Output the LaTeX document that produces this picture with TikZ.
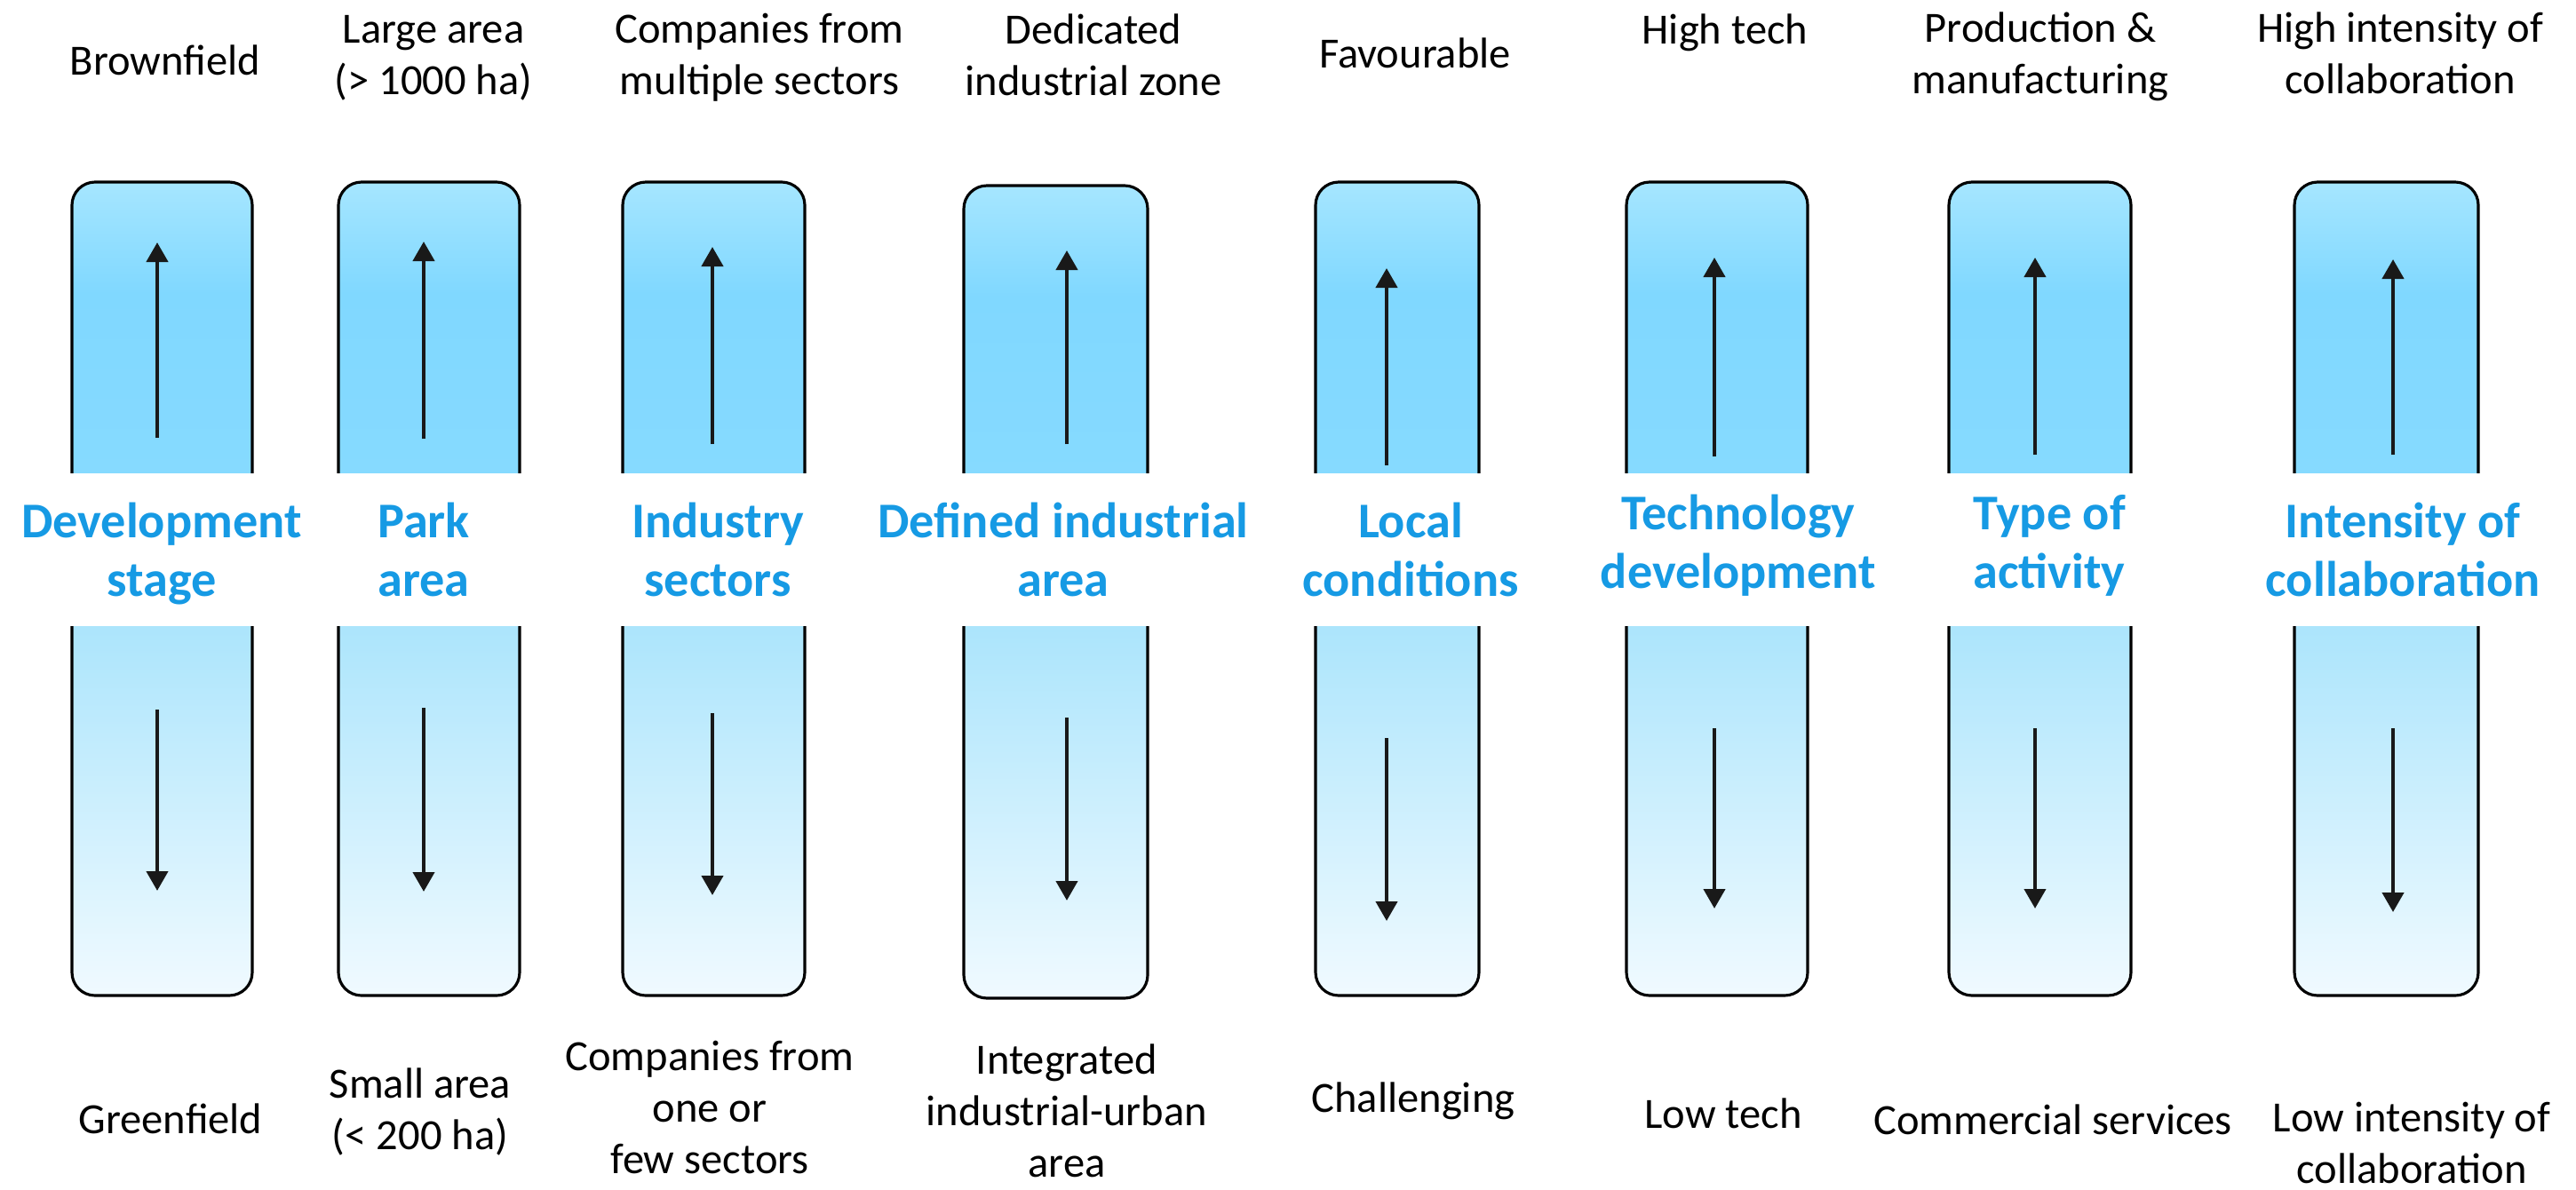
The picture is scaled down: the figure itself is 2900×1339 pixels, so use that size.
\documentclass[tikz,border=0pt]{standalone}
\usepackage{fontspec}
\setmainfont{Carlito}
\usetikzlibrary{arrows.meta}
\definecolor{ttl}{RGB}{22,154,228}
\definecolor{gA}{HTML}{A6E6FF}
\definecolor{gB}{HTML}{80D8FF}
\definecolor{gC}{HTML}{86DAFF}
\definecolor{gD}{HTML}{ACE5FC}
\definecolor{gE}{HTML}{F0FAFF}
\pgfdeclareverticalshading{boxshade}{100bp}{color(0bp)=(gE); color(25bp)=(gE); color(47.7bp)=(gD); color(57.1bp)=(gC); color(68.15bp)=(gB); color(75bp)=(gA); color(100bp)=(gA)}
\newcommand\mylbl[1]{\begin{tabular}[t]{@{}c@{}}#1\end{tabular}}
\tikzset{
  colbox/.style={draw=black, line width=0.9pt, rounded corners=0.26cm, shade, shading=boxshade, inner sep=0pt},
  bandbox/.style={fill=white, draw=none, inner sep=0pt},
  arr/.style={draw=black!90, line width=1.2pt, -{Triangle[width=0.24cm,length=0.22cm]}},
  lab/.style={inner sep=0pt, anchor=base, font=\fontsize{13.8pt}{16.5pt}\selectfont},
  ttlnode/.style={inner sep=0pt, anchor=base, text=ttl, font=\fontsize{16pt}{19pt}\selectfont\bfseries}
}
\newcommand\mycolbox[5]{%
  \node[colbox, minimum width={(#3-#2)*0.01cm}, minimum height={(#5-#4)*0.01cm}] (#1) at ({(#2+#3)/2},{(#4+#5)/2}) {};
  \node[bandbox, minimum width={(#3-#2+12)*0.01cm}, minimum height=1.71cm] (#1w) at ({(#2+#3)/2},619) {};
}
\newcommand\myarrows[6]{%
  \coordinate (#1ua) at (#2,#3); \coordinate (#1ub) at (#2,#4);
  \coordinate (#1da) at (#2,#5); \coordinate (#1db) at (#2,#6);
  \draw[arr] (#1ua) -- (#1ub);
  \draw[arr] (#1da) -- (#1db);
}
\begin{document}
\begin{tikzpicture}[x=0.01cm, y=-0.01cm]
\fill[white] (0,0) rectangle (2900,1339);
\useasboundingbox (0,0) rectangle (2900,1339);

\mycolbox{b1}{81}{284}{205}{1121}
\mycolbox{b2}{381}{585}{205}{1121}
\mycolbox{b3}{701}{906}{205}{1121}
\mycolbox{b4}{1085}{1292}{209}{1124}
\mycolbox{b5}{1481}{1665}{205}{1121}
\mycolbox{b6}{1831}{2035}{205}{1121}
\mycolbox{b7}{2194}{2399}{205}{1121}
\mycolbox{b8}{2583}{2790}{205}{1121}

\myarrows{a1}{177}{493}{273}{799}{1003}
\myarrows{a2}{477}{494}{272}{797}{1004}
\myarrows{a3}{802}{500}{278}{803}{1008}
\myarrows{a4}{1201}{500}{282}{808}{1014}
\myarrows{a5}{1561}{524}{302}{831}{1037}
\myarrows{a6}{1930}{514}{290}{820}{1023}
\myarrows{a7}{2291}{512}{290}{820}{1023}
\myarrows{a8}{2694}{512}{292}{820}{1027}

\node[ttlnode] (t1) at (182,605) {\mylbl{Development\\stage}};
\node[ttlnode] (t2) at (477,605) {\mylbl{Park\\area}};
\node[ttlnode] (t3) at (808,605) {\mylbl{Industry\\sectors}};
\node[ttlnode] (t4) at (1197,605) {\mylbl{Defined industrial\\area}};
\node[ttlnode] (t5) at (1588,605) {\mylbl{Local\\conditions}};
\node[ttlnode] (t6) at (1957,596) {\mylbl{Technology\\development}};
\node[ttlnode] (t7) at (2307,596) {\mylbl{Type of\\activity}};
\node[ttlnode] (t8) at (2705,605) {\mylbl{Intensity of\\collaboration}};

\node[lab] (h1) at (186,84) {\mylbl{Brownfield}};
\node[lab] (h2) at (488,48) {\mylbl{Large area\\(> 1000 ha)}};
\node[lab] (h3) at (855,48) {\mylbl{Companies from\\multiple sectors}};
\node[lab] (h4) at (1231,49) {\mylbl{Dedicated\\industrial zone}};
\node[lab] (h5) at (1593,76) {\mylbl{Favourable}};
\node[lab] (h6) at (1942,49) {\mylbl{High tech}};
\node[lab] (h7) at (2297,47) {\mylbl{Production \&\\manufacturing}};
\node[lab] (h8) at (2702,47) {\mylbl{High intensity of\\collaboration}};

\node[lab] (l1) at (192,1276) {\mylbl{Greenfield}};
\node[lab] (l2) at (473,1236) {\mylbl{Small area\\(< 200 ha)}};
\node[lab] (l3) at (799,1205) {\mylbl{Companies from\\one or\\few sectors}};
\node[lab] (l4) at (1201,1209) {\mylbl{Integrated\\industrial-urban\\area}};
\node[lab] (l5) at (1591,1252) {\mylbl{Challenging}};
\node[lab] (l6) at (1940,1270) {\mylbl{Low tech}};
\node[lab] (l7) at (2311,1277) {\mylbl{Commercial services}};
\node[lab] (l8) at (2715,1274) {\mylbl{Low intensity of\\collaboration}};
\end{tikzpicture}
\end{document}
